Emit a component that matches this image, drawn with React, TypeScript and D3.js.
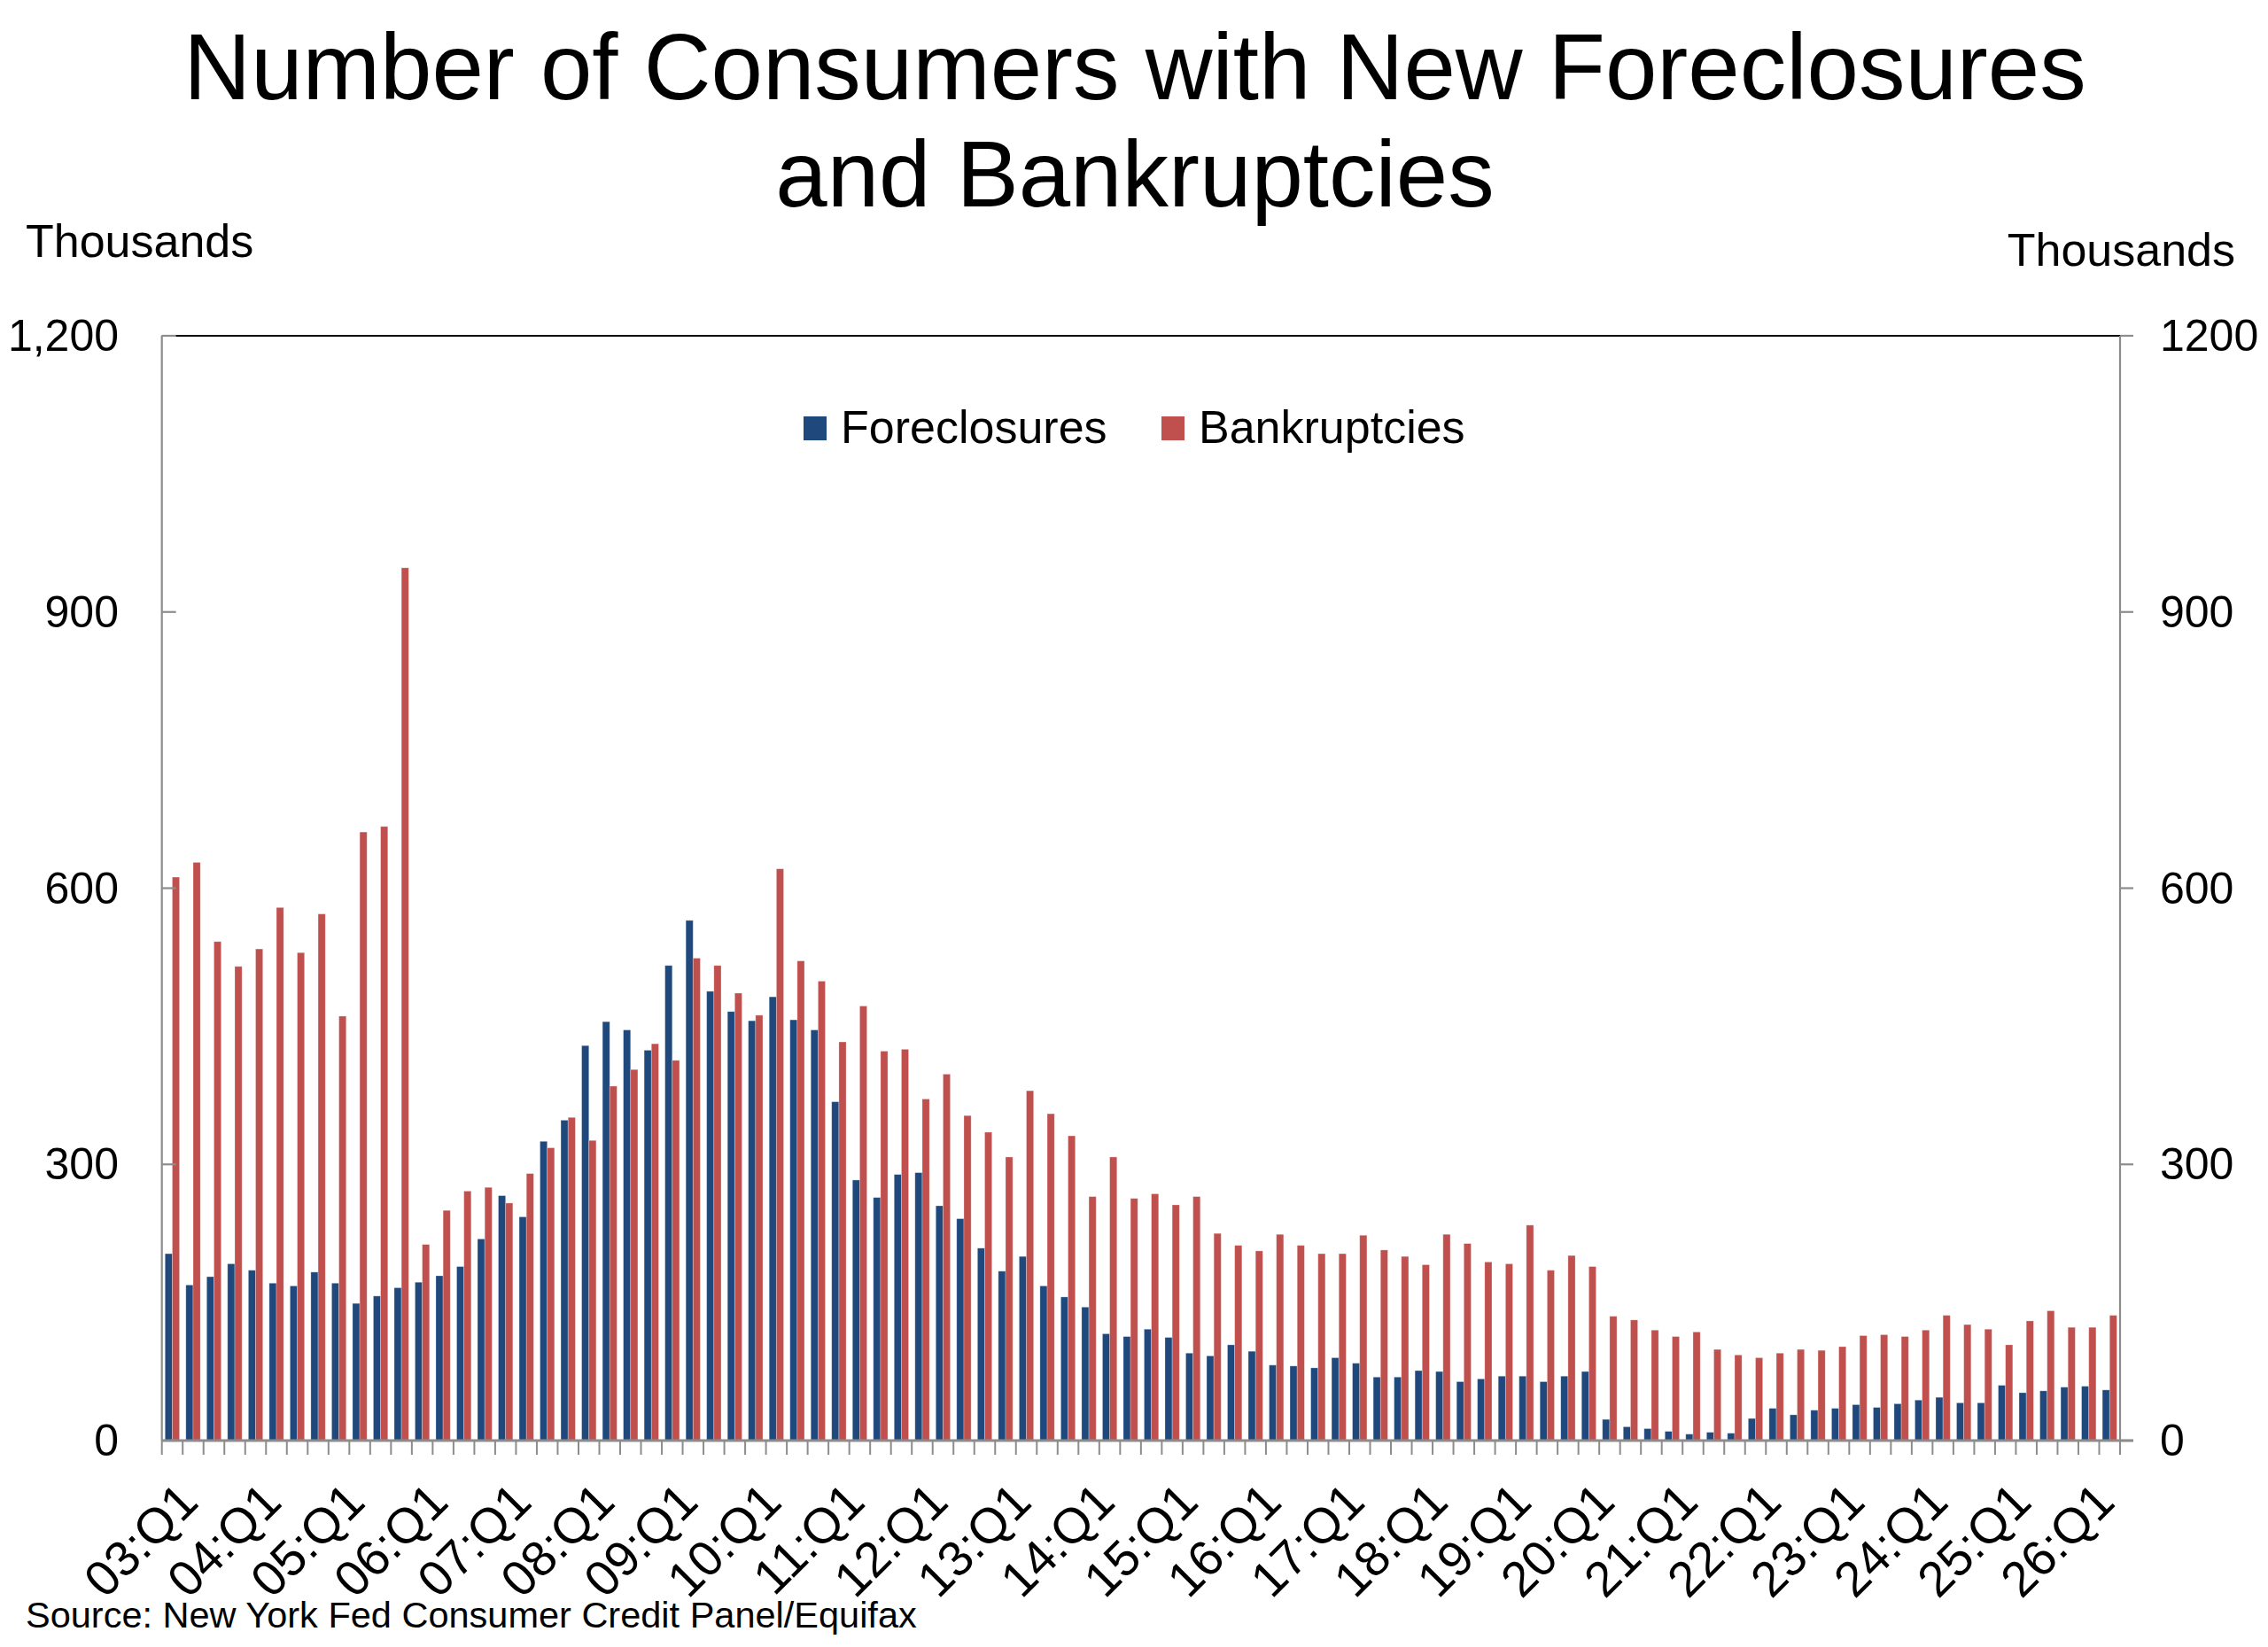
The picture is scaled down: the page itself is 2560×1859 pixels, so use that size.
import React from "react";
import * as d3 from "d3";

const years = ["03","04","05","06","07","08","09","10","11","12","13","14","15","16","17","18","19","20","21","22","23","24","25","26"];
const quarters = ["Q1","Q2","Q3","Q4"];
const categories: string[] = years.flatMap((y) => quarters.map((q) => `${y}:${q}`)).slice(0, 94);
const tickLabels = years.map((y) => `${y}:Q1`);

const foreclosures = [
  203,169,178,192,185,171,168,183,171,149,157,166,172,179,189,219,
  266,243,325,348,429,455,446,424,516,565,488,466,456,482,457,446,
  368,283,264,289,291,255,241,209,184,200,168,156,145,116,113,121,
  112,95,92,104,97,82,81,79,90,84,69,69,76,75,64,67,
  70,70,64,70,75,23,15,13,10,7,9,8,24,35,28,33,
  35,39,36,40,44,47,41,41,60,52,54,58,59,55,
];
const bankruptcies = [
  612,628,542,515,534,579,530,572,461,661,667,948,213,250,271,275,
  258,290,318,351,326,385,403,431,413,524,516,486,462,621,521,499,
  433,472,423,425,371,398,353,335,308,380,355,331,265,308,263,268,
  256,265,225,212,206,224,212,203,203,223,207,200,191,224,214,194,
  192,234,185,201,189,135,131,120,113,118,99,93,90,95,99,98,
  102,114,115,113,120,136,126,121,104,130,141,123,123,136,
];
const seriesNames = ["Foreclosures", "Bankruptcies"];
const seriesColors = ["#1F497D", "#C0504D"];
const leftTicks = [0, 300, 600, 900, 1200];
const leftTickLabels = ["0", "300", "600", "900", "1,200"];
const rightTickLabels = ["0", "300", "600", "900", "1200"];

const W = 2560;
const H = 1859;
const L = 182.7;
const R = 2393;
const T = 379;
const B = 1626;
const FONT = "'Liberation Sans', Arial, Helvetica, sans-serif";
const AXIS = "#8C8C8C";

export default function App() {
  const x = d3.scaleBand<string>().domain(categories).range([L, R]).padding(0);
  const inner = d3
    .scaleBand<string>()
    .domain(seriesNames)
    .range([0, x.bandwidth()])
    .paddingInner(0)
    .paddingOuter(0.44);
  const y = d3.scaleLinear().domain([0, 1200]).range([B, T]);
  const data = [foreclosures, bankruptcies];

  const boundaries = d3.range(categories.length + 1).map((i) => L + i * x.step());

  return (
    <svg
      width={W}
      height={H}
      viewBox={`0 0 ${W} ${H}`}
      style={{ position: "absolute", left: 0, top: 0, display: "block", background: "#fff" }}
      fontFamily={FONT}
    >
      <rect x={0} y={0} width={W} height={H} fill="#fff" />
      {/* Title */}
      <text x={1281} y={112} fontSize={105} textAnchor="middle" fill="#000">
        Number of Consumers with New Foreclosures
      </text>
      <text x={1281} y={233} fontSize={105} textAnchor="middle" fill="#000">
        and Bankruptcies
      </text>

      {/* Units */}
      <text x={29} y={290} fontSize={52} fill="#000">Thousands</text>
      <text x={2523} y={300} fontSize={52} textAnchor="end" fill="#000">Thousands</text>

      {/* Bars */}
      {data.map((vals, si) => (
        <g key={seriesNames[si]} fill={seriesColors[si]}>
          {vals.map((v, i) => {
            const bx = (x(categories[i]) as number) + (inner(seriesNames[si]) as number);
            return (
              <rect
                key={i}
                x={bx}
                y={y(v)}
                width={inner.bandwidth()}
                height={B - y(v)}
                stroke="#ffffff"
                strokeOpacity={0.35}
                strokeWidth={0.8}
              />
            );
          })}
        </g>
      ))}

      {/* Top border */}
      <line x1={L} x2={R} y1={T} y2={T} stroke="#000" strokeWidth={2} />

      {/* Left axis */}
      <line x1={L} x2={L} y1={T} y2={B} stroke={AXIS} strokeWidth={2.2} />
      {leftTicks.map((t, i) => (
        <g key={`l${t}`}>
          <line x1={L} x2={L + 16} y1={y(t)} y2={y(t)} stroke={AXIS} strokeWidth={2.2} />
          <text x={134} y={y(t) + 17} fontSize={50} textAnchor="end" fill="#000">
            {leftTickLabels[i]}
          </text>
        </g>
      ))}

      {/* Right axis */}
      <line x1={R} x2={R} y1={T} y2={B} stroke={AXIS} strokeWidth={2.2} />
      {leftTicks.map((t, i) => (
        <g key={`r${t}`}>
          <line x1={R} x2={R + 15} y1={y(t)} y2={y(t)} stroke={AXIS} strokeWidth={2.2} />
          <text x={2438} y={y(t) + 17} fontSize={50} textAnchor="start" fill="#000">
            {rightTickLabels[i]}
          </text>
        </g>
      ))}

      {/* X axis */}
      <line x1={L} x2={R + 15} y1={B} y2={B} stroke={AXIS} strokeWidth={3} />
      {boundaries.map((bx, i) => (
        <line key={`xt${i}`} x1={bx} x2={bx} y1={B} y2={B + 16} stroke={AXIS} strokeWidth={2} />
      ))}
      {tickLabels.map((lab) => {
        const cx = (x(lab) as number) + x.bandwidth() / 2;
        return (
          <text
            key={lab}
            transform={`translate(${cx + 18},${1684}) rotate(-45)`}
            fontSize={56}
            textAnchor="end"
            dy="0.35em"
            fill="#000"
          >
            {lab}
          </text>
        );
      })}

      {/* Legend */}
      <rect x={907} y={470} width={26} height={27} fill={seriesColors[0]} />
      <text x={949} y={500} fontSize={52} fill="#000">{seriesNames[0]}</text>
      <rect x={1311} y={470} width={26} height={27} fill={seriesColors[1]} />
      <text x={1353} y={500} fontSize={52} fill="#000">{seriesNames[1]}</text>

      {/* Source */}
      <text x={29} y={1837} fontSize={41.5} fill="#000">
        Source: New York Fed Consumer Credit Panel/Equifax
      </text>
    </svg>
  );
}
